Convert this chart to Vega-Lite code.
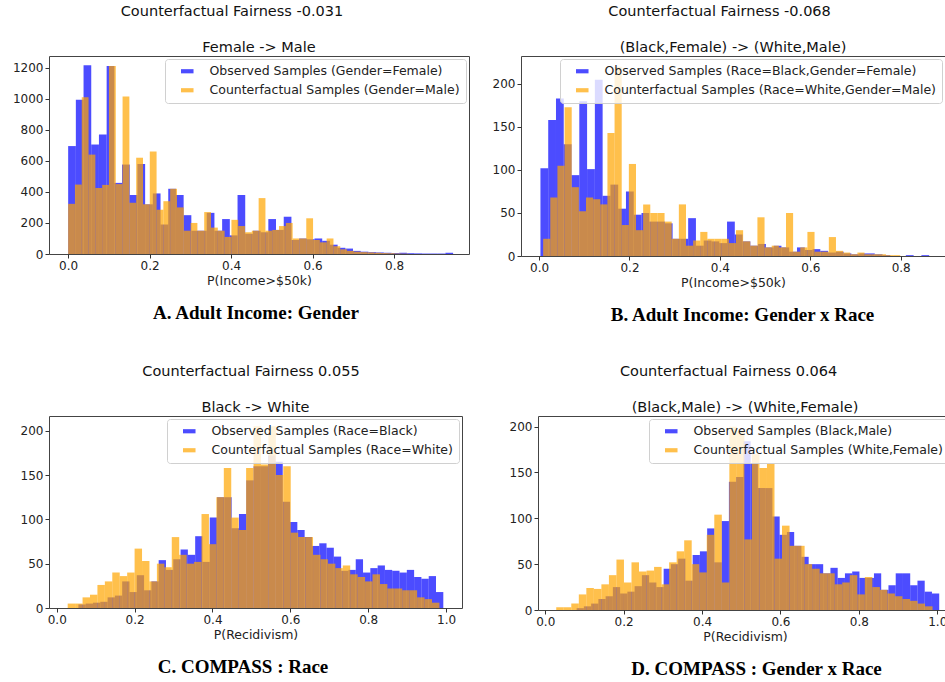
{
"$schema":"https://vega.github.io/schema/vega-lite/v6.json",
"padding":{"left":10,"top":3,"right":0,"bottom":0},
"background":"white",
"config":{
"font":"DejaVu Sans",
"view":{"stroke":"#444","strokeWidth":1},
"axis":{"grid":false,"domain":false,"tickColor":"#333","tickSize":4,"labelFontSize":12,"labelColor":"#222","titleFontSize":12.5,"titleFontWeight":"normal","titleColor":"#222","labelPadding":2,"titlePadding":3},
"legend":{"orient":"top-right","offset":3,"padding":6,"fillColor":"rgba(255,255,255,0.8)","strokeColor":"#d0d0d0","cornerRadius":3,"labelFontSize":12.5,"labelColor":"#222","labelLimit":500,"symbolType":"M-1.5,-0.5H1.5V0.5H-1.5Z","symbolSize":70,"symbolOpacity":0.7,"symbolStrokeWidth":0,"rowPadding":6,"labelOffset":16,"symbolOffset":10},
"title":{"fontSize":14.5,"font":"DejaVu Sans","fontWeight":"normal","color":"#111","offset":1,"anchor":"middle","frame":"group"}
},
"datasets":{
"A":[
{"s":"o","a":0,"b":0.0189,"c":695},{"s":"o","a":0.0189,"b":0.0378,"c":994},{"s":"o","a":0.0378,"b":0.0567,"c":1215},{"s":"o","a":0.0567,"b":0.0756,"c":705},{"s":"o","a":0.0756,"b":0.0945,"c":770},{"s":"o","a":0.0945,"b":0.1134,"c":1210},{"s":"o","a":0.1134,"b":0.1323,"c":458},{"s":"o","a":0.1323,"b":0.1512,"c":576},{"s":"o","a":0.1512,"b":0.1701,"c":380},{"s":"o","a":0.1701,"b":0.189,"c":580},{"s":"o","a":0.189,"b":0.2079,"c":320},{"s":"o","a":0.2079,"b":0.2268,"c":390},{"s":"o","a":0.2268,"b":0.2457,"c":190},{"s":"o","a":0.2457,"b":0.2646,"c":420},{"s":"o","a":0.2646,"b":0.2835,"c":380},{"s":"o","a":0.2835,"b":0.3024,"c":250},{"s":"o","a":0.3024,"b":0.3213,"c":150},{"s":"o","a":0.3213,"b":0.3402,"c":150},{"s":"o","a":0.3402,"b":0.3591,"c":265},{"s":"o","a":0.3591,"b":0.378,"c":150},{"s":"o","a":0.378,"b":0.3969,"c":225},{"s":"o","a":0.3969,"b":0.4158,"c":120},{"s":"o","a":0.4158,"b":0.4347,"c":380},{"s":"o","a":0.4347,"b":0.4536,"c":130},{"s":"o","a":0.4536,"b":0.4725,"c":150},{"s":"o","a":0.4725,"b":0.4914,"c":140},{"s":"o","a":0.4914,"b":0.5103,"c":225},{"s":"o","a":0.5103,"b":0.5292,"c":155},{"s":"o","a":0.5292,"b":0.5481,"c":240},{"s":"o","a":0.5481,"b":0.567,"c":90},{"s":"o","a":0.567,"b":0.5859,"c":100},{"s":"o","a":0.5859,"b":0.6048,"c":95},{"s":"o","a":0.6048,"b":0.6237,"c":100},{"s":"o","a":0.6237,"b":0.6426,"c":85},{"s":"o","a":0.6426,"b":0.6615,"c":60},{"s":"o","a":0.6615,"b":0.6804,"c":40},{"s":"o","a":0.6804,"b":0.6993,"c":35},{"s":"o","a":0.6993,"b":0.7182,"c":20},{"s":"o","a":0.7182,"b":0.7371,"c":15},{"s":"o","a":0.7371,"b":0.756,"c":12},{"s":"o","a":0.756,"b":0.7749,"c":10},{"s":"o","a":0.7749,"b":0.7938,"c":8},{"s":"o","a":0.7938,"b":0.8127,"c":6},{"s":"o","a":0.8127,"b":0.8316,"c":8},{"s":"o","a":0.8316,"b":0.8505,"c":5},{"s":"o","a":0.8505,"b":0.8694,"c":4},{"s":"o","a":0.8694,"b":0.8883,"c":3},{"s":"o","a":0.8883,"b":0.9072,"c":3},{"s":"o","a":0.9072,"b":0.9261,"c":3},{"s":"o","a":0.9261,"b":0.945,"c":8},
{"s":"c","a":0,"b":0.0167,"c":323},{"s":"c","a":0.0167,"b":0.0334,"c":447},{"s":"c","a":0.0334,"b":0.0501,"c":1010},{"s":"c","a":0.0501,"b":0.0668,"c":640},{"s":"c","a":0.0668,"b":0.0835,"c":425},{"s":"c","a":0.0835,"b":0.1002,"c":445},{"s":"c","a":0.1002,"b":0.1169,"c":1210},{"s":"c","a":0.1169,"b":0.1336,"c":450},{"s":"c","a":0.1336,"b":0.1503,"c":1015},{"s":"c","a":0.1503,"b":0.167,"c":330},{"s":"c","a":0.167,"b":0.1837,"c":620},{"s":"c","a":0.1837,"b":0.2004,"c":320},{"s":"c","a":0.2004,"b":0.2171,"c":660},{"s":"c","a":0.2171,"b":0.2338,"c":285},{"s":"c","a":0.2338,"b":0.2505,"c":340},{"s":"c","a":0.2505,"b":0.2672,"c":420},{"s":"c","a":0.2672,"b":0.2839,"c":300},{"s":"c","a":0.2839,"b":0.3006,"c":150},{"s":"c","a":0.3006,"b":0.3173,"c":200},{"s":"c","a":0.3173,"b":0.334,"c":150},{"s":"c","a":0.334,"b":0.3507,"c":270},{"s":"c","a":0.3507,"b":0.3674,"c":170},{"s":"c","a":0.3674,"b":0.3841,"c":150},{"s":"c","a":0.3841,"b":0.4008,"c":110},{"s":"c","a":0.4008,"b":0.4175,"c":220},{"s":"c","a":0.4175,"b":0.4342,"c":180},{"s":"c","a":0.4342,"b":0.4509,"c":140},{"s":"c","a":0.4509,"b":0.4676,"c":150},{"s":"c","a":0.4676,"b":0.4843,"c":360},{"s":"c","a":0.4843,"b":0.501,"c":150},{"s":"c","a":0.501,"b":0.5177,"c":155},{"s":"c","a":0.5177,"b":0.5344,"c":180},{"s":"c","a":0.5344,"b":0.5511,"c":200},{"s":"c","a":0.5511,"b":0.5678,"c":100},{"s":"c","a":0.5678,"b":0.5845,"c":100},{"s":"c","a":0.5845,"b":0.6012,"c":230},{"s":"c","a":0.6012,"b":0.6179,"c":90},{"s":"c","a":0.6179,"b":0.6346,"c":75},{"s":"c","a":0.6346,"b":0.6513,"c":100},{"s":"c","a":0.6513,"b":0.668,"c":50},{"s":"c","a":0.668,"b":0.6847,"c":30},{"s":"c","a":0.6847,"b":0.7014,"c":20},{"s":"c","a":0.7014,"b":0.7181,"c":15},{"s":"c","a":0.7181,"b":0.7348,"c":12},{"s":"c","a":0.7348,"b":0.7515,"c":10},{"s":"c","a":0.7515,"b":0.7682,"c":8},{"s":"c","a":0.7682,"b":0.7849,"c":6},{"s":"c","a":0.7849,"b":0.8016,"c":5},{"s":"c","a":0.8016,"b":0.8183,"c":3},{"s":"c","a":0.8183,"b":0.835,"c":2}
],
"B":[
{"s":"o","a":0.003,"b":0.0202,"c":102},{"s":"o","a":0.0202,"b":0.0374,"c":158},{"s":"o","a":0.0374,"b":0.0546,"c":183},{"s":"o","a":0.0546,"b":0.0718,"c":130},{"s":"o","a":0.0718,"b":0.089,"c":94},{"s":"o","a":0.089,"b":0.1062,"c":180},{"s":"o","a":0.1062,"b":0.1234,"c":101},{"s":"o","a":0.1234,"b":0.1406,"c":205},{"s":"o","a":0.1406,"b":0.1578,"c":70},{"s":"o","a":0.1578,"b":0.175,"c":83},{"s":"o","a":0.175,"b":0.1922,"c":55},{"s":"o","a":0.1922,"b":0.2094,"c":75},{"s":"o","a":0.2094,"b":0.2266,"c":48},{"s":"o","a":0.2266,"b":0.2438,"c":50},{"s":"o","a":0.2438,"b":0.261,"c":40},{"s":"o","a":0.261,"b":0.2782,"c":40},{"s":"o","a":0.2782,"b":0.2954,"c":38},{"s":"o","a":0.2954,"b":0.3126,"c":20},{"s":"o","a":0.3126,"b":0.3298,"c":20},{"s":"o","a":0.3298,"b":0.347,"c":44},{"s":"o","a":0.347,"b":0.3642,"c":12},{"s":"o","a":0.3642,"b":0.3814,"c":18},{"s":"o","a":0.3814,"b":0.3986,"c":17},{"s":"o","a":0.3986,"b":0.4158,"c":15},{"s":"o","a":0.4158,"b":0.433,"c":40},{"s":"o","a":0.433,"b":0.4502,"c":25},{"s":"o","a":0.4502,"b":0.4674,"c":17},{"s":"o","a":0.4674,"b":0.4846,"c":12},{"s":"o","a":0.4846,"b":0.5018,"c":14},{"s":"o","a":0.5018,"b":0.519,"c":10},{"s":"o","a":0.519,"b":0.5362,"c":12},{"s":"o","a":0.5362,"b":0.5534,"c":10},{"s":"o","a":0.5534,"b":0.5706,"c":5},{"s":"o","a":0.5706,"b":0.5878,"c":10},{"s":"o","a":0.5878,"b":0.605,"c":7},{"s":"o","a":0.605,"b":0.6222,"c":8},{"s":"o","a":0.6222,"b":0.6394,"c":6},{"s":"o","a":0.6394,"b":0.6566,"c":4},{"s":"o","a":0.6566,"b":0.6738,"c":5},{"s":"o","a":0.6738,"b":0.691,"c":3},{"s":"o","a":0.691,"b":0.7082,"c":2},{"s":"o","a":0.7082,"b":0.7254,"c":3},{"s":"o","a":0.7254,"b":0.7426,"c":3},{"s":"o","a":0.7426,"b":0.7598,"c":2},{"s":"o","a":0.7598,"b":0.777,"c":1},{"s":"o","a":0.777,"b":0.7942,"c":0},{"s":"o","a":0.7942,"b":0.8114,"c":0},{"s":"o","a":0.8114,"b":0.8286,"c":1},{"s":"o","a":0.8286,"b":0.8458,"c":0},{"s":"o","a":0.8458,"b":0.863,"c":1},
{"s":"c","a":0.009,"b":0.0248,"c":20},{"s":"c","a":0.0248,"b":0.0406,"c":68},{"s":"c","a":0.0406,"b":0.0564,"c":105},{"s":"c","a":0.0564,"b":0.0722,"c":173},{"s":"c","a":0.0722,"b":0.088,"c":80},{"s":"c","a":0.088,"b":0.1038,"c":52},{"s":"c","a":0.1038,"b":0.1196,"c":68},{"s":"c","a":0.1196,"b":0.1354,"c":66},{"s":"c","a":0.1354,"b":0.1512,"c":60},{"s":"c","a":0.1512,"b":0.167,"c":143},{"s":"c","a":0.167,"b":0.1828,"c":220},{"s":"c","a":0.1828,"b":0.1986,"c":36},{"s":"c","a":0.1986,"b":0.2144,"c":107},{"s":"c","a":0.2144,"b":0.2302,"c":30},{"s":"c","a":0.2302,"b":0.246,"c":60},{"s":"c","a":0.246,"b":0.2618,"c":50},{"s":"c","a":0.2618,"b":0.2776,"c":50},{"s":"c","a":0.2776,"b":0.2934,"c":40},{"s":"c","a":0.2934,"b":0.3092,"c":20},{"s":"c","a":0.3092,"b":0.325,"c":60},{"s":"c","a":0.325,"b":0.3408,"c":12},{"s":"c","a":0.3408,"b":0.3566,"c":18},{"s":"c","a":0.3566,"b":0.3724,"c":28},{"s":"c","a":0.3724,"b":0.3882,"c":20},{"s":"c","a":0.3882,"b":0.404,"c":20},{"s":"c","a":0.404,"b":0.4198,"c":20},{"s":"c","a":0.4198,"b":0.4356,"c":15},{"s":"c","a":0.4356,"b":0.4514,"c":30},{"s":"c","a":0.4514,"b":0.4672,"c":17},{"s":"c","a":0.4672,"b":0.483,"c":12},{"s":"c","a":0.483,"b":0.4988,"c":45},{"s":"c","a":0.4988,"b":0.5146,"c":10},{"s":"c","a":0.5146,"b":0.5304,"c":12},{"s":"c","a":0.5304,"b":0.5462,"c":10},{"s":"c","a":0.5462,"b":0.562,"c":50},{"s":"c","a":0.562,"b":0.5778,"c":5},{"s":"c","a":0.5778,"b":0.5936,"c":10},{"s":"c","a":0.5936,"b":0.6094,"c":28},{"s":"c","a":0.6094,"b":0.6252,"c":5},{"s":"c","a":0.6252,"b":0.641,"c":5},{"s":"c","a":0.641,"b":0.6568,"c":22},{"s":"c","a":0.6568,"b":0.6726,"c":6},{"s":"c","a":0.6726,"b":0.6884,"c":4},{"s":"c","a":0.6884,"b":0.7042,"c":2},{"s":"c","a":0.7042,"b":0.72,"c":4},{"s":"c","a":0.72,"b":0.7358,"c":2},{"s":"c","a":0.7358,"b":0.7516,"c":2},{"s":"c","a":0.7516,"b":0.7674,"c":2},{"s":"c","a":0.7674,"b":0.7832,"c":1},{"s":"c","a":0.7832,"b":0.799,"c":1}
],
"C":[
{"s":"o","a":0.0555,"b":0.07425,"c":4},{"s":"o","a":0.07425,"b":0.093,"c":5},{"s":"o","a":0.093,"b":0.11175,"c":6},{"s":"o","a":0.11175,"b":0.1305,"c":7},{"s":"o","a":0.1305,"b":0.14925,"c":12},{"s":"o","a":0.14925,"b":0.168,"c":14},{"s":"o","a":0.168,"b":0.18675,"c":30},{"s":"o","a":0.18675,"b":0.2055,"c":18},{"s":"o","a":0.2055,"b":0.22425,"c":37},{"s":"o","a":0.22425,"b":0.243,"c":20},{"s":"o","a":0.243,"b":0.26175,"c":30},{"s":"o","a":0.26175,"b":0.2805,"c":54},{"s":"o","a":0.2805,"b":0.29925,"c":43},{"s":"o","a":0.29925,"b":0.318,"c":55},{"s":"o","a":0.318,"b":0.33675,"c":66},{"s":"o","a":0.33675,"b":0.3555,"c":60},{"s":"o","a":0.3555,"b":0.37425,"c":81},{"s":"o","a":0.37425,"b":0.393,"c":52},{"s":"o","a":0.393,"b":0.41175,"c":102},{"s":"o","a":0.41175,"b":0.4305,"c":125},{"s":"o","a":0.4305,"b":0.44925,"c":125},{"s":"o","a":0.44925,"b":0.468,"c":90},{"s":"o","a":0.468,"b":0.48675,"c":106},{"s":"o","a":0.48675,"b":0.5055,"c":144},{"s":"o","a":0.5055,"b":0.52425,"c":160},{"s":"o","a":0.52425,"b":0.543,"c":160},{"s":"o","a":0.543,"b":0.56175,"c":172},{"s":"o","a":0.56175,"b":0.5805,"c":165},{"s":"o","a":0.5805,"b":0.59925,"c":120},{"s":"o","a":0.59925,"b":0.618,"c":97},{"s":"o","a":0.618,"b":0.63675,"c":88},{"s":"o","a":0.63675,"b":0.6555,"c":80},{"s":"o","a":0.6555,"b":0.67425,"c":70},{"s":"o","a":0.67425,"b":0.693,"c":73},{"s":"o","a":0.693,"b":0.71175,"c":68},{"s":"o","a":0.71175,"b":0.7305,"c":58},{"s":"o","a":0.7305,"b":0.74925,"c":42},{"s":"o","a":0.74925,"b":0.768,"c":43},{"s":"o","a":0.768,"b":0.78675,"c":55},{"s":"o","a":0.78675,"b":0.8055,"c":40},{"s":"o","a":0.8055,"b":0.82425,"c":45},{"s":"o","a":0.82425,"b":0.843,"c":48},{"s":"o","a":0.843,"b":0.86175,"c":43},{"s":"o","a":0.86175,"b":0.8805,"c":42},{"s":"o","a":0.8805,"b":0.89925,"c":40},{"s":"o","a":0.89925,"b":0.918,"c":43},{"s":"o","a":0.918,"b":0.93675,"c":35},{"s":"o","a":0.93675,"b":0.9555,"c":33},{"s":"o","a":0.9555,"b":0.97425,"c":36},{"s":"o","a":0.97425,"b":0.993,"c":18},
{"s":"c","a":0.028,"b":0.0471,"c":5},{"s":"c","a":0.0471,"b":0.0662,"c":5},{"s":"c","a":0.0662,"b":0.0853,"c":12},{"s":"c","a":0.0853,"b":0.1044,"c":15},{"s":"c","a":0.1044,"b":0.1235,"c":26},{"s":"c","a":0.1235,"b":0.1426,"c":30},{"s":"c","a":0.1426,"b":0.1617,"c":40},{"s":"c","a":0.1617,"b":0.1808,"c":36},{"s":"c","a":0.1808,"b":0.1999,"c":40},{"s":"c","a":0.1999,"b":0.219,"c":67},{"s":"c","a":0.219,"b":0.2381,"c":53},{"s":"c","a":0.2381,"b":0.2572,"c":30},{"s":"c","a":0.2572,"b":0.2763,"c":50},{"s":"c","a":0.2763,"b":0.2954,"c":46},{"s":"c","a":0.2954,"b":0.3145,"c":80},{"s":"c","a":0.3145,"b":0.3336,"c":60},{"s":"c","a":0.3336,"b":0.3527,"c":50},{"s":"c","a":0.3527,"b":0.3718,"c":52},{"s":"c","a":0.3718,"b":0.3909,"c":106},{"s":"c","a":0.3909,"b":0.41,"c":72},{"s":"c","a":0.41,"b":0.4291,"c":125},{"s":"c","a":0.4291,"b":0.4482,"c":158},{"s":"c","a":0.4482,"b":0.4673,"c":102},{"s":"c","a":0.4673,"b":0.4864,"c":88},{"s":"c","a":0.4864,"b":0.5055,"c":158},{"s":"c","a":0.5055,"b":0.5246,"c":205},{"s":"c","a":0.5246,"b":0.5437,"c":162},{"s":"c","a":0.5437,"b":0.5628,"c":205},{"s":"c","a":0.5628,"b":0.5819,"c":150},{"s":"c","a":0.5819,"b":0.601,"c":160},{"s":"c","a":0.601,"b":0.6201,"c":85},{"s":"c","a":0.6201,"b":0.6392,"c":80},{"s":"c","a":0.6392,"b":0.6583,"c":80},{"s":"c","a":0.6583,"b":0.6774,"c":60},{"s":"c","a":0.6774,"b":0.6965,"c":55},{"s":"c","a":0.6965,"b":0.7156,"c":50},{"s":"c","a":0.7156,"b":0.7347,"c":45},{"s":"c","a":0.7347,"b":0.7538,"c":48},{"s":"c","a":0.7538,"b":0.7729,"c":38},{"s":"c","a":0.7729,"b":0.792,"c":35},{"s":"c","a":0.792,"b":0.8111,"c":30},{"s":"c","a":0.8111,"b":0.8302,"c":38},{"s":"c","a":0.8302,"b":0.8493,"c":27},{"s":"c","a":0.8493,"b":0.8684,"c":22},{"s":"c","a":0.8684,"b":0.8875,"c":22},{"s":"c","a":0.8875,"b":0.9066,"c":20},{"s":"c","a":0.9066,"b":0.9257,"c":20},{"s":"c","a":0.9257,"b":0.9448,"c":12},{"s":"c","a":0.9448,"b":0.9639,"c":10},{"s":"c","a":0.9639,"b":0.983,"c":6}
],
"D":[
{"s":"o","a":0.08,"b":0.0985,"c":2},{"s":"o","a":0.0985,"b":0.117,"c":4},{"s":"o","a":0.117,"b":0.1355,"c":7},{"s":"o","a":0.1355,"b":0.154,"c":12},{"s":"o","a":0.154,"b":0.1725,"c":15},{"s":"o","a":0.1725,"b":0.191,"c":25},{"s":"o","a":0.191,"b":0.2095,"c":18},{"s":"o","a":0.2095,"b":0.228,"c":20},{"s":"o","a":0.228,"b":0.2465,"c":26},{"s":"o","a":0.2465,"b":0.265,"c":38},{"s":"o","a":0.265,"b":0.2835,"c":30},{"s":"o","a":0.2835,"b":0.302,"c":25},{"s":"o","a":0.302,"b":0.3205,"c":45},{"s":"o","a":0.3205,"b":0.339,"c":50},{"s":"o","a":0.339,"b":0.3575,"c":56},{"s":"o","a":0.3575,"b":0.376,"c":32},{"s":"o","a":0.376,"b":0.3945,"c":60},{"s":"o","a":0.3945,"b":0.413,"c":64},{"s":"o","a":0.413,"b":0.4315,"c":89},{"s":"o","a":0.4315,"b":0.45,"c":52},{"s":"o","a":0.45,"b":0.4685,"c":97},{"s":"o","a":0.4685,"b":0.487,"c":140},{"s":"o","a":0.487,"b":0.5055,"c":145},{"s":"o","a":0.5055,"b":0.524,"c":184},{"s":"o","a":0.524,"b":0.5425,"c":160},{"s":"o","a":0.5425,"b":0.561,"c":133},{"s":"o","a":0.561,"b":0.5795,"c":133},{"s":"o","a":0.5795,"b":0.598,"c":102},{"s":"o","a":0.598,"b":0.6165,"c":82},{"s":"o","a":0.6165,"b":0.635,"c":85},{"s":"o","a":0.635,"b":0.6535,"c":70},{"s":"o","a":0.6535,"b":0.672,"c":58},{"s":"o","a":0.672,"b":0.6905,"c":50},{"s":"o","a":0.6905,"b":0.709,"c":50},{"s":"o","a":0.709,"b":0.7275,"c":40},{"s":"o","a":0.7275,"b":0.746,"c":46},{"s":"o","a":0.746,"b":0.7645,"c":35},{"s":"o","a":0.7645,"b":0.783,"c":40},{"s":"o","a":0.783,"b":0.8015,"c":42},{"s":"o","a":0.8015,"b":0.82,"c":35},{"s":"o","a":0.82,"b":0.8385,"c":35},{"s":"o","a":0.8385,"b":0.857,"c":40},{"s":"o","a":0.857,"b":0.8755,"c":22},{"s":"o","a":0.8755,"b":0.894,"c":27},{"s":"o","a":0.894,"b":0.9125,"c":40},{"s":"o","a":0.9125,"b":0.931,"c":40},{"s":"o","a":0.931,"b":0.9495,"c":27},{"s":"o","a":0.9495,"b":0.968,"c":32},{"s":"o","a":0.968,"b":0.9865,"c":20},{"s":"o","a":0.9865,"b":1.005,"c":18},
{"s":"c","a":0.028,"b":0.0472,"c":3},{"s":"c","a":0.0472,"b":0.0664,"c":3},{"s":"c","a":0.0664,"b":0.0856,"c":7},{"s":"c","a":0.0856,"b":0.1048,"c":17},{"s":"c","a":0.1048,"b":0.124,"c":24},{"s":"c","a":0.124,"b":0.1432,"c":23},{"s":"c","a":0.1432,"b":0.1624,"c":28},{"s":"c","a":0.1624,"b":0.1816,"c":38},{"s":"c","a":0.1816,"b":0.2008,"c":55},{"s":"c","a":0.2008,"b":0.22,"c":30},{"s":"c","a":0.22,"b":0.2392,"c":52},{"s":"c","a":0.2392,"b":0.2584,"c":42},{"s":"c","a":0.2584,"b":0.2776,"c":43},{"s":"c","a":0.2776,"b":0.2968,"c":47},{"s":"c","a":0.2968,"b":0.316,"c":28},{"s":"c","a":0.316,"b":0.3352,"c":52},{"s":"c","a":0.3352,"b":0.3544,"c":64},{"s":"c","a":0.3544,"b":0.3736,"c":76},{"s":"c","a":0.3736,"b":0.3928,"c":50},{"s":"c","a":0.3928,"b":0.412,"c":41},{"s":"c","a":0.412,"b":0.4312,"c":82},{"s":"c","a":0.4312,"b":0.4504,"c":104},{"s":"c","a":0.4504,"b":0.4696,"c":30},{"s":"c","a":0.4696,"b":0.4888,"c":200},{"s":"c","a":0.4888,"b":0.508,"c":195},{"s":"c","a":0.508,"b":0.5272,"c":77},{"s":"c","a":0.5272,"b":0.5464,"c":170},{"s":"c","a":0.5464,"b":0.5656,"c":155},{"s":"c","a":0.5656,"b":0.5848,"c":160},{"s":"c","a":0.5848,"b":0.604,"c":56},{"s":"c","a":0.604,"b":0.6232,"c":92},{"s":"c","a":0.6232,"b":0.6424,"c":70},{"s":"c","a":0.6424,"b":0.6616,"c":70},{"s":"c","a":0.6616,"b":0.6808,"c":50},{"s":"c","a":0.6808,"b":0.7,"c":45},{"s":"c","a":0.7,"b":0.7192,"c":40},{"s":"c","a":0.7192,"b":0.7384,"c":40},{"s":"c","a":0.7384,"b":0.7576,"c":28},{"s":"c","a":0.7576,"b":0.7768,"c":30},{"s":"c","a":0.7768,"b":0.796,"c":38},{"s":"c","a":0.796,"b":0.8152,"c":17},{"s":"c","a":0.8152,"b":0.8344,"c":36},{"s":"c","a":0.8344,"b":0.8536,"c":25},{"s":"c","a":0.8536,"b":0.8728,"c":22},{"s":"c","a":0.8728,"b":0.892,"c":18},{"s":"c","a":0.892,"b":0.9112,"c":15},{"s":"c","a":0.9112,"b":0.9304,"c":12},{"s":"c","a":0.9304,"b":0.9496,"c":10},{"s":"c","a":0.9496,"b":0.9688,"c":7},{"s":"c","a":0.9688,"b":0.988,"c":4}
]
},
"resolve":{"scale":{"color":"independent"},"legend":{"color":"independent"}},
"spacing":38,
"vconcat":[
{"hconcat":[
{"title":{"text":"A. Adult Income: Gender","orient":"bottom","font":"Liberation Serif","fontWeight":"bold","fontSize":19,"color":"#000","offset":17,"anchor":"middle","frame":"bounds","dx":16},
"resolve":{"scale":{"color":"independent"},"legend":{"color":"independent"}},
"vconcat":[{
"title":{"text":"Counterfactual Fairness -0.031","frame":"bounds","offset":20,"dx":-8},
"resolve":{"scale":{"color":"independent"},"legend":{"color":"independent"}},
"vconcat":[{
"width":420,"height":198,
"data":{"name":"A"},
"title":{"text":"Female -> Male"},
"mark":{"type":"bar","opacity":0.7},
"encoding":{
"x":{"field":"a","type":"quantitative","scale":{"domain":[-0.047,0.984],"nice":false,"zero":false},"axis":{"values":[0,0.2,0.4,0.6,0.8],"format":".1f","title":"P(Income>$50k)"}},
"x2":{"field":"b"},
"y":{"field":"c","type":"quantitative","stack":null,"scale":{"domain":[0,1275],"nice":false},"axis":{"values":[0,200,400,600,800,1000,1200],"format":"d","title":null,"minExtent":38}},
"y2":{"datum":0},
"color":{"field":"s","type":"nominal","scale":{"domain":["o","c"],"range":["#0000ff","#ffa500"]},"legend":{"title":null,"labelExpr":"datum.label == 'o' ? 'Observed Samples (Gender=Female)' : 'Counterfactual Samples (Gender=Male)'"}}
}}]}]},
{"title":{"text":"B. Adult Income: Gender x Race","orient":"bottom","font":"Liberation Serif","fontWeight":"bold","fontSize":19,"color":"#000","offset":17,"anchor":"middle","frame":"bounds","dx":24},
"resolve":{"scale":{"color":"independent"},"legend":{"color":"independent"}},
"vconcat":[{
"title":{"text":"Counterfactual Fairness -0.068","frame":"bounds","offset":20,"dx":1},
"resolve":{"scale":{"color":"independent"},"legend":{"color":"independent"}},
"vconcat":[{
"width":424,"height":200,
"data":{"name":"B"},
"title":{"text":"(Black,Female) -> (White,Male)"},
"mark":{"type":"bar","opacity":0.7},
"encoding":{
"x":{"field":"a","type":"quantitative","scale":{"domain":[-0.04,0.898],"nice":false,"zero":false},"axis":{"values":[0,0.2,0.4,0.6,0.8],"format":".1f","title":"P(Income>$50k)"}},
"x2":{"field":"b"},
"y":{"field":"c","type":"quantitative","stack":null,"scale":{"domain":[0,232.5],"nice":false},"axis":{"values":[0,50,100,150,200],"format":"d","title":null}},
"y2":{"datum":0},
"color":{"field":"s","type":"nominal","scale":{"domain":["o","c"],"range":["#0000ff","#ffa500"]},"legend":{"title":null,"labelExpr":"datum.label == 'o' ? 'Observed Samples (Race=Black,Gender=Female)' : 'Counterfactual Samples (Race=White,Gender=Male)'"}}
}}]}]}
],"spacing":21,"resolve":{"scale":{"color":"independent"},"legend":{"color":"independent"}}},
{"hconcat":[
{"title":{"text":"C. COMPASS : Race","orient":"bottom","font":"Liberation Serif","fontWeight":"bold","fontSize":19,"color":"#000","offset":17,"anchor":"middle","frame":"bounds","dx":5},
"resolve":{"scale":{"color":"independent"},"legend":{"color":"independent"}},
"vconcat":[{
"title":{"text":"Counterfactual Fairness 0.055","frame":"bounds","offset":20,"dx":13},
"resolve":{"scale":{"color":"independent"},"legend":{"color":"independent"}},
"vconcat":[{
"width":413,"height":192,
"data":{"name":"C"},
"title":{"text":"Black -> White"},
"mark":{"type":"bar","opacity":0.7},
"encoding":{
"x":{"field":"a","type":"quantitative","scale":{"domain":[-0.02,1.041],"nice":false,"zero":false},"axis":{"values":[0,0.2,0.4,0.6,0.8,1.0],"format":".1f","title":"P(Recidivism)"}},
"x2":{"field":"b"},
"y":{"field":"c","type":"quantitative","stack":null,"scale":{"domain":[0,216.6],"nice":false},"axis":{"values":[0,50,100,150,200],"format":"d","title":null,"minExtent":35}},
"y2":{"datum":0},
"color":{"field":"s","type":"nominal","scale":{"domain":["o","c"],"range":["#0000ff","#ffa500"]},"legend":{"title":null,"labelExpr":"datum.label == 'o' ? 'Observed Samples (Race=Black)' : 'Counterfactual Samples (Race=White)'"}}
}}]}]},
{"title":{"text":"D. COMPASS : Gender x Race","orient":"bottom","font":"Liberation Serif","fontWeight":"bold","fontSize":19,"color":"#000","offset":17,"anchor":"middle","frame":"bounds","dx":26},
"resolve":{"scale":{"color":"independent"},"legend":{"color":"independent"}},
"vconcat":[{
"title":{"text":"Counterfactual Fairness 0.064","frame":"bounds","offset":20,"dx":-2},
"resolve":{"scale":{"color":"independent"},"legend":{"color":"independent"}},
"vconcat":[{
"width":414,"height":194,
"data":{"name":"D"},
"title":{"text":"(Black,Male) -> (White,Female)"},
"mark":{"type":"bar","opacity":0.7},
"encoding":{
"x":{"field":"a","type":"quantitative","scale":{"domain":[-0.0185,1.0376],"nice":false,"zero":false},"axis":{"values":[0,0.2,0.4,0.6,0.8,1.0],"format":".1f","title":"P(Recidivism)"}},
"x2":{"field":"b"},
"y":{"field":"c","type":"quantitative","stack":null,"scale":{"domain":[0,211.6],"nice":false},"axis":{"values":[0,50,100,150,200],"format":"d","title":null}},
"y2":{"datum":0},
"color":{"field":"s","type":"nominal","scale":{"domain":["o","c"],"range":["#0000ff","#ffa500"]},"legend":{"title":null,"labelExpr":"datum.label == 'o' ? 'Observed Samples (Black,Male)' : 'Counterfactual Samples (White,Female)'"}}
}}]}]}
],"spacing":45,"resolve":{"scale":{"color":"independent"},"legend":{"color":"independent"}}}
]
}
